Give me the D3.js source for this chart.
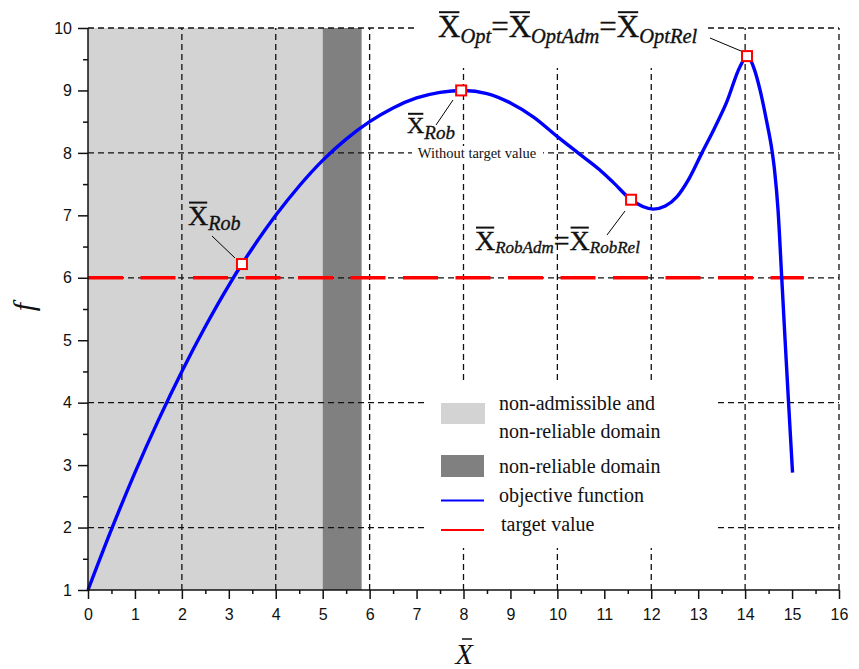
<!DOCTYPE html>
<html><head><meta charset="utf-8">
<script src="https://cdn.jsdelivr.net/npm/d3@7"></script>
<style>body{margin:0;background:#fff}svg{display:block}</style>
</head><body>
<svg id="c" width="859" height="669"></svg>
<script>
// ---- data ----
const curveX = [0, 0.5, 1, 1.5, 2, 2.5, 3, 3.28, 3.5, 4, 4.5, 5, 5.5, 6, 6.5, 7, 7.5, 8, 8.5, 9, 9.5, 10, 10.44, 10.9, 11.2, 11.57, 12.04, 12.3, 12.55, 12.8, 13.08, 13.35, 13.6, 13.89, 14.04, 14.2, 14.32, 14.46, 14.57, 14.63, 14.7, 14.78, 14.85, 14.92, 15.01];
const curveF = [1, 1.97, 2.88, 3.72, 4.5, 5.22, 5.88, 6.22, 6.47, 7.0, 7.47, 7.88, 8.22, 8.5, 8.72, 8.88, 8.97, 9.0, 8.95, 8.8, 8.57, 8.26, 8.0, 7.73, 7.52, 7.25, 7.10, 7.15, 7.30, 7.58, 8.0, 8.4, 8.8, 9.38, 9.55, 9.33, 9.0, 8.5, 8.05, 7.7, 7.1, 6.0, 5.02, 4.07, 2.88];
const targetValue = 6;
const targetRange = [0, 15.25];
const nonAdmRange = [0, 5];
const nonRelRange = [5, 5.83];
const markerX = [3.28, 7.95, 11.57, 14.04];
const markerF = [6.22, 9.0, 7.25, 9.55];
const xTicks = d3.range(0, 17, 1);
const yTicks = d3.range(1, 11, 1);
const xGrid = [2, 4, 6, 8, 10, 12, 14, 16];
const yGrid = [2, 4, 6, 8, 10];
const legendLabels = [["non-admissible and", "non-reliable domain"], ["non-reliable domain"], ["objective function"], ["target value"]];
const noteText = "Without target value";

const svg = d3.select("#c");
const x = d3.scaleLinear().domain([0, 16]).range([88, 839]);
const y = d3.scaleLinear().domain([1, 10]).range([590, 28]);

// shaded domains
svg.append("rect").attr("x", x(nonAdmRange[0])).attr("y", y(10))
  .attr("width", x(nonAdmRange[1]) - x(nonAdmRange[0])).attr("height", y(1) - y(10)).attr("fill", "#d3d3d3");
svg.append("rect").attr("x", x(nonRelRange[0])).attr("y", y(10))
  .attr("width", x(nonRelRange[1]) - x(nonRelRange[0])).attr("height", y(1) - y(10)).attr("fill", "#808080");

// grid
const grid = svg.append("g").attr("stroke", "#111").attr("stroke-width", 1.3).attr("stroke-dasharray", "6,4");
grid.selectAll("line.h").data(yGrid).join("line").attr("class", "h")
  .attr("x1", x(0)).attr("x2", x(16)).attr("y1", d => y(d)).attr("y2", d => y(d));
grid.selectAll("line.v").data(xGrid).join("line").attr("class", "v")
  .attr("x1", d => x(d)).attr("x2", d => x(d)).attr("y1", y(1)).attr("y2", y(10));

// target value line
svg.append("line").attr("x1", x(targetRange[0])).attr("x2", x(targetRange[1]))
  .attr("y1", y(targetValue)).attr("y2", y(targetValue))
  .attr("stroke", "#ff0000").attr("stroke-width", 3.4).attr("stroke-dasharray", "35,17.5");

// white backgrounds for title, note, legend
svg.append("rect").attr("x", 416).attr("y", 0).attr("width", 290).attr("height", 68).attr("fill", "#fff");
svg.append("rect").attr("x", 412).attr("y", 146).attr("width", 131).attr("height", 15).attr("fill", "#fff");
svg.append("rect").attr("x", 424).attr("y", 380).attr("width", 291).attr("height", 168).attr("fill", "#fff");

// objective function
const pts = curveX.map((d, i) => [d, curveF[i]]);
svg.append("path").datum(pts)
  .attr("d", d3.line().x(d => x(d[0])).y(d => y(d[1])).curve(d3.curveMonotoneX))
  .attr("fill", "none").attr("stroke", "#0000ff").attr("stroke-width", 3.4);

// leader lines
const leaders = [[[212, 236], [235, 258]], [[436, 125], [453, 100]], [[607, 235], [625, 211]], [[710, 38], [741, 51]]];
svg.append("g").selectAll("line").data(leaders).join("line")
  .attr("x1", d => d[0][0]).attr("y1", d => d[0][1]).attr("x2", d => d[1][0]).attr("y2", d => d[1][1])
  .attr("stroke", "#000").attr("stroke-width", 1);

// markers
svg.append("g").selectAll("rect").data(markerX).join("rect")
  .attr("x", (d) => x(d) - 5).attr("y", (d, i) => y(markerF[i]) - 5)
  .attr("width", 10).attr("height", 10).attr("fill", "#fff").attr("stroke", "#ff0000").attr("stroke-width", 2);

// X-bar labels
function xbar(px, py, parts, big, sub, subDy) {
  const t = svg.append("text").attr("x", px).attr("y", py)
    .attr("font-family", "Liberation Serif").attr("fill", "#111")
    .attr("stroke", "#111").attr("stroke-width", 0.35);
  let idx = 0, cur = 0; const xi = [];
  parts.forEach(p => {
    if (p === "X" || p === "=") {
      t.append("tspan").text(p).attr("font-size", big).attr("dy", cur ? -subDy : 0);
      if (p === "X") xi.push(idx);
      idx += 1; cur = 0;
    } else {
      t.append("tspan").text(p).attr("font-size", sub).attr("font-style", "italic").attr("dy", cur ? 0 : subDy);
      idx += p.length; cur = 1;
    }
  });
  xi.forEach(i => {
    const e = t.node().getExtentOfChar(i);
    svg.append("line").attr("x1", e.x + 1).attr("x2", e.x + e.width - 1)
      .attr("y1", py - big * 0.8).attr("y2", py - big * 0.8).attr("stroke", "#111").attr("stroke-width", 2);
  });
}
xbar(438, 37, ["X", "Opt", "=", "X", "OptAdm", "=", "X", "OptRel"], 31, 20.5, 6);
xbar(407, 133, ["X", "Rob"], 24, 19, 6);
xbar(188, 225, ["X", "Rob"], 28, 20, 5);
xbar(475, 250, ["X", "RobAdm", "=", "X", "RobRel"], 28, 17, 3);

svg.append("text").attr("x", 477).attr("y", 158).attr("text-anchor", "middle")
  .attr("font-family", "Liberation Serif").attr("font-size", 14.5).attr("fill", "#111").text(noteText);

// legend
const lg = svg.append("g").attr("font-family", "Liberation Serif").attr("font-size", 20).attr("fill", "#111");
lg.append("rect").attr("x", 441).attr("y", 403).attr("width", 44).attr("height", 21).attr("fill", "#d3d3d3");
lg.append("rect").attr("x", 441).attr("y", 455).attr("width", 43).attr("height", 22).attr("fill", "#808080");
lg.append("line").attr("x1", 441).attr("x2", 484).attr("y1", 500.5).attr("y2", 500.5).attr("stroke", "#0000ff").attr("stroke-width", 2.2);
lg.append("line").attr("x1", 441).attr("x2", 484).attr("y1", 530).attr("y2", 530).attr("stroke", "#ff0000").attr("stroke-width", 2.2);
const lt = [[499, 410, legendLabels[0][0]], [499, 438, legendLabels[0][1]], [499, 473, legendLabels[1][0]], [499, 502, legendLabels[2][0]], [501, 531, legendLabels[3][0]]];
lg.selectAll("text").data(lt).join("text").attr("x", d => d[0]).attr("y", d => d[1]).text(d => d[2]);

// axes
const yAx = svg.append("g").attr("transform", `translate(${x(0)},0)`)
  .call(d3.axisLeft(y).tickValues(yTicks).tickSize(10).tickPadding(6).tickFormat(d3.format("d")));
svg.append("g").attr("transform", `translate(${x(0)},0)`)
  .call(d3.axisLeft(y).tickValues(d3.range(1.5, 10, 1)).tickSize(5).tickFormat(""))
  .call(g => g.select(".domain").remove());
const xAx = svg.append("g").attr("transform", `translate(0,${y(1)})`)
  .call(d3.axisBottom(x).tickValues(xTicks).tickSize(9).tickPadding(10).tickFormat(d3.format("d")));
svg.append("g").attr("transform", `translate(0,${y(1)})`)
  .call(d3.axisBottom(x).tickValues(d3.range(0.5, 16, 1)).tickSize(4).tickFormat(""))
  .call(g => g.select(".domain").remove());
svg.selectAll(".tick text").attr("font-family", "Liberation Sans").attr("font-size", 16).attr("fill", "#111");
svg.selectAll(".domain, .tick line").attr("stroke", "#111").attr("stroke-width", 1.5);
yAx.select(".domain").attr("d", `M0,${y(10)}V${y(1)}`);
xAx.select(".domain").attr("d", `M${x(0)},0H${x(16)}`);

// axis titles
svg.append("text").attr("transform", "translate(34,307) rotate(-90)").attr("text-anchor", "middle")
  .attr("font-family", "Liberation Serif").attr("font-style", "italic").attr("font-size", 30).attr("fill", "#111").text("f");
svg.append("text").attr("x", 464).attr("y", 664).attr("text-anchor", "middle")
  .attr("font-family", "Liberation Serif").attr("font-style", "italic").attr("font-size", 29).attr("fill", "#111").text("X");
svg.append("line").attr("x1", 462).attr("x2", 472).attr("y1", 639).attr("y2", 639).attr("stroke", "#111").attr("stroke-width", 1.5);
</script>
</body></html>
